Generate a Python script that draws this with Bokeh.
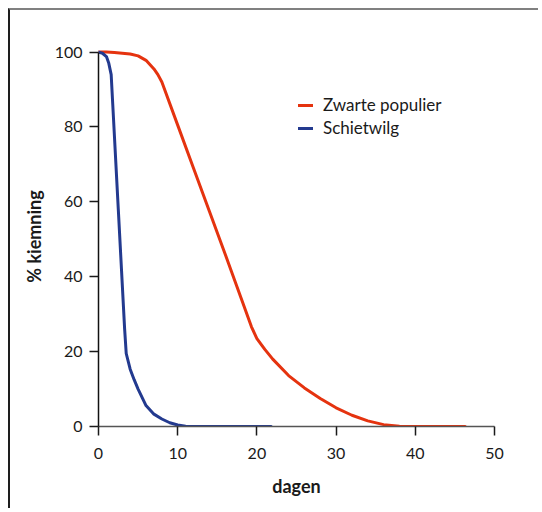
from bokeh.plotting import figure
from bokeh.models import Range1d, FixedTicker, Legend, LegendItem
from bokeh.embed import file_html
from bokeh.resources import INLINE

# Data
populier_days = [0, 1, 2, 3, 4, 5, 6, 7, 7.5, 8, 10, 12, 14, 16, 18, 19.3,
                 20, 21, 22, 24, 26, 28, 30, 32, 34, 36, 38, 40, 42, 44, 46.3]
populier_pct = [100, 100, 99.9, 99.7, 99.5, 99, 97.8, 95.5, 94, 92, 80.5, 69,
                57.5, 46, 34.3, 26.7, 23.5, 20.6, 18, 13.6, 10.3, 7.5, 5.0,
                3.0, 1.5, 0.5, 0.1, 0, 0, 0, 0]

wilg_days = [0, 0.5, 1.0, 1.3, 1.6, 1.8, 2.5, 3.3, 3.5, 4, 4.5, 5, 6, 7, 8,
             9, 10, 11, 21.8]
wilg_pct = [100, 99.7, 98.8, 97, 94, 86, 58, 26, 19.5, 15.3, 12.5, 10, 5.6,
            3.3, 2.0, 1.0, 0.4, 0.1, 0]

x_ticks = [0, 10, 20, 30, 40, 50]
y_ticks = [0, 20, 40, 60, 80, 100]

series_names = ["Zwarte populier", "Schietwilg"]
series_colors = ["#e5330f", "#233a8f"]

FONT = "Lato"
TEXT = "#1a1a1a"

W, H = 530, 500
p = figure(width=W, height=H, output_backend="svg", toolbar_location=None,
           x_range=Range1d(0, 50), y_range=Range1d(0, 101.5),
           min_border_left=88, min_border_right=46, min_border_top=36,
           min_border_bottom=84,
           styles={"margin-top": "8px", "margin-left": "8px",
                   "border-top": "2px solid #808080",
                   "border-left": "2px solid #1e1e1e"})
p.outline_line_color = None
p.xgrid.visible = False
p.ygrid.visible = False
p.background_fill_color = "white"
p.border_fill_color = "white"

r1 = p.line(populier_days, populier_pct, line_color=series_colors[0],
            line_width=3, line_join="round", line_cap="round")
r2 = p.line(wilg_days, wilg_pct, line_color=series_colors[1],
            line_width=3, line_join="round", line_cap="round")

# x axis
xa = p.xaxis[0]
xa.ticker = FixedTicker(ticks=x_ticks)
xa.axis_line_color = "#555555"
xa.axis_line_width = 1.5
xa.major_tick_line_color = TEXT
xa.major_tick_line_width = 1.5
xa.major_tick_out = 9
xa.major_tick_in = 0
xa.minor_tick_line_color = None
xa.major_label_text_font = FONT
xa.major_label_text_font_size = "16px"
xa.major_label_text_color = TEXT
xa.major_label_standoff = 12
xa.axis_label = "dagen"
xa.axis_label_text_font = FONT
xa.axis_label_text_font_style = "bold"
xa.axis_label_text_font_size = "18px"
xa.axis_label_text_color = TEXT
xa.axis_label_standoff = 13

# y axis
ya = p.yaxis[0]
ya.ticker = FixedTicker(ticks=y_ticks)
ya.bounds = (0, 100)
ya.axis_line_color = "#111111"
ya.axis_line_width = 1.5
ya.major_tick_line_color = TEXT
ya.major_tick_line_width = 1.5
ya.major_tick_out = 9
ya.major_tick_in = 0
ya.minor_tick_line_color = None
ya.major_label_text_font = FONT
ya.major_label_text_font_size = "16px"
ya.major_label_text_color = TEXT
ya.major_label_standoff = 7
ya.axis_label = "% kiemning"
ya.axis_label_text_font = FONT
ya.axis_label_text_font_style = "bold"
ya.axis_label_text_font_size = "18px"
ya.axis_label_text_color = TEXT
ya.axis_label_standoff = 7

legend = Legend(items=[LegendItem(label=series_names[0], renderers=[r1]),
                       LegendItem(label=series_names[1], renderers=[r2])],
                location=(200, 288))
legend.border_line_color = None
legend.background_fill_alpha = 0
legend.padding = 0
legend.margin = 0
legend.spacing = 2
legend.glyph_width = 15
legend.glyph_height = 20
legend.label_height = 20
legend.label_standoff = 10
legend.label_text_font = FONT
legend.label_text_font_size = "17px"
legend.label_text_color = TEXT
p.add_layout(legend)

open("out.html", "w").write(file_html(p, INLINE))
